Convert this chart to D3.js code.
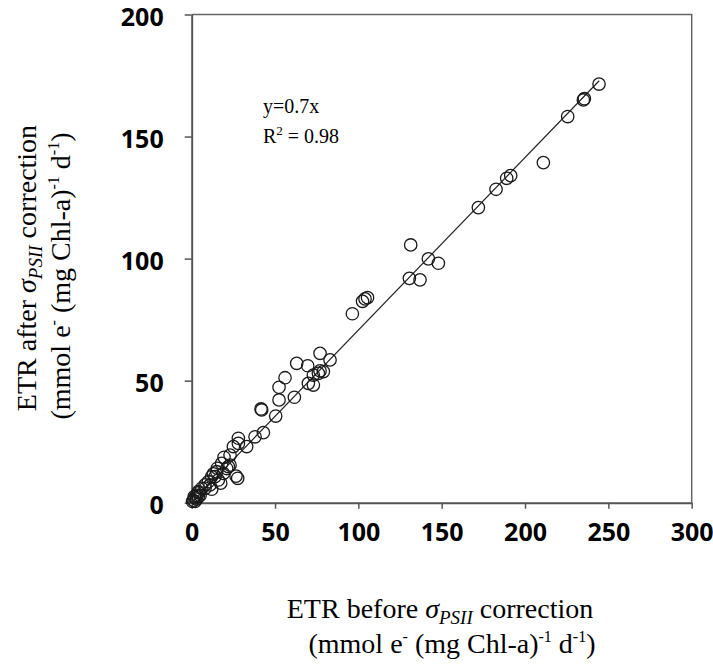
<!DOCTYPE html>
<html>
<head>
<meta charset="utf-8">
<script src="https://cdn.jsdelivr.net/npm/d3@7"></script>
<style>
  body { margin: 0; background: #fff; }
  .tick text { font-family: "Open Sans", sans-serif; font-weight: bold; font-size: 25px; fill: #000; }
  .ttl { font-family: "Liberation Serif", "Times New Roman", serif; font-size: 28px; fill: #000; }
</style>
</head>
<body>
<div id="chart"></div>
<script>

// ETR values (x = before correction, y = after)
var etrBefore = [244.4, 235, 235.6, 225.6, 211, 191.4, 189, 182.6, 172, 148, 142, 137, 131.4, 130.6,
  105.5, 104, 102.5, 96.4, 83, 79, 77, 77, 76, 73, 73, 70, 69.6, 63, 61.6, 56, 52.4, 52.4, 50.4,
  42, 41.6, 43, 38, 33, 28, 28, 26.6, 27.6, 25, 23, 19.4, 23, 22, 21, 19, 18, 15.4, 15, 14, 13, 12,
  16, 17.4, 11, 12, 10, 8, 8, 6, 4, 4, 3, 2, 4, 1, 3, 2, 5, 1.5, 0.5];
var etrAfter = [171.5, 165, 165.5, 158.2, 139.3, 134, 132.9, 128.4, 120.9, 98.1, 99.9, 91.3, 105.6, 91.9,
  84, 83.5, 82.5, 77.4, 58.5, 53.7, 61.2, 54, 53, 52.3, 48.2, 48.9, 56.1, 57.1, 43.2, 51.2, 47.3, 42.1, 35.5,
  38, 38.4, 28.7, 27, 23, 26.4, 24.3, 10.9, 10, 23, 19.5, 18.6, 15.4, 14.8, 14, 12, 16.1, 14.1, 12.7, 10.7, 11.8, 10.7,
  9.3, 8, 7.3, 5.5, 8.6, 5.9, 7.3, 5.9, 4.1, 4.5, 3, 2, 2.5, 1, 1.5, 0.5, 3, 2.5, 0.5];
var xTicks = [0, 50, 100, 150, 200, 250, 300];
var yTicks = [0, 50, 100, 150, 200];
var fitSlope = 0.707;
var fitMaxX = 244.5;

var W = 713, H = 669;
var margin = {top: 14.5, right: 21.3, bottom: 166.3, left: 191.7},
    width = W - margin.left - margin.right,
    height = H - margin.top - margin.bottom;

var svg = d3.select("#chart")
  .append("svg")
    .attr("width", W)
    .attr("height", H);

var g = svg.append("g")
    .attr("transform", "translate(" + margin.left + "," + margin.top + ")");

var x = d3.scaleLinear().domain([0, 300]).range([0, width]);
var y = d3.scaleLinear().domain([0, 200]).range([height, 0]);

// frame top and right
g.append("path")
  .attr("d", "M0,0H" + width + "V" + height)
  .attr("fill", "none")
  .attr("stroke", "#666")
  .attr("stroke-width", 1.5);

var xAxis = g.append("g")
  .attr("transform", "translate(0," + height + ")")
  .call(d3.axisBottom(x).tickValues(xTicks).tickSize(6).tickPadding(15).tickSizeOuter(0));

var yAxis = g.append("g")
  .call(d3.axisLeft(y).tickValues(yTicks).tickSize(7).tickPadding(28).tickSizeOuter(0));

[xAxis, yAxis].forEach(function(a) {
  a.select(".domain").attr("stroke", "#555").attr("stroke-width", 2);
  a.selectAll(".tick line").attr("stroke", "#555").attr("stroke-width", 1.5);
});
yAxis.selectAll(".tick text").attr("dy", "0.42em").attr("x", -28);

// fitted line
g.append("path")
  .datum([0, fitMaxX])
  .attr("fill", "none")
  .attr("stroke", "#222")
  .attr("stroke-width", 1.2)
  .attr("d", d3.line()
    .x(function(d) { return x(d) })
    .y(function(d) { return y(d * fitSlope) }));

// points
g.selectAll("circle.pt")
  .data(etrBefore)
  .enter().append("circle")
    .attr("class", "pt")
    .attr("cx", function(d) { return x(d) })
    .attr("cy", function(d, i) { return y(etrAfter[i]) })
    .attr("r", 6.2)
    .attr("fill", "none")
    .attr("stroke", "#1a1a1a")
    .attr("stroke-width", 1.3);

// equation
var eq = svg.append("text").attr("class", "ttl").style("font-size", "20px");
eq.append("tspan").attr("x", 263).attr("y", 113).text("y=0.7x");
eq.append("tspan").attr("x", 263).attr("y", 143).text("R");
eq.append("tspan").attr("dy", -8).style("font-size", "13px").text("2");
eq.append("tspan").attr("dy", 8).text(" = 0.98");

function sigmaTitle(t, word) {
  t.append("tspan").text("ETR " + word + " ");
  t.append("tspan").style("font-style", "italic").text("σ");
  t.append("tspan").style("font-style", "italic").style("font-size", "19px").attr("dy", 6).text("PSII");
  t.append("tspan").attr("dy", -6).text(" correction");
}
function unitTitle(t) {
  t.append("tspan").text("(mmol e");
  t.append("tspan").style("font-size", "16px").attr("dy", -11).text("-");
  t.append("tspan").attr("dy", 11).text(" (mg Chl-a)");
  t.append("tspan").style("font-size", "16px").attr("dy", -11).text("-1");
  t.append("tspan").attr("dy", 11).text(" d");
  t.append("tspan").style("font-size", "16px").attr("dy", -11).text("-1");
  t.append("tspan").attr("dy", 11).text(")");
}

// x title
var xt1 = svg.append("text").attr("class", "ttl").attr("text-anchor", "middle")
  .attr("x", 440).attr("y", 618);
sigmaTitle(xt1, "before");
var xt2 = svg.append("text").attr("class", "ttl").attr("text-anchor", "middle")
  .attr("x", 452).attr("y", 653);
unitTitle(xt2);

// y title
var yt1 = svg.append("text").attr("class", "ttl").attr("text-anchor", "middle")
  .attr("transform", "translate(36,268) rotate(-90)");
sigmaTitle(yt1, "after");
var yt2 = svg.append("text").attr("class", "ttl").attr("text-anchor", "middle")
  .attr("transform", "translate(70,276) rotate(-90)");
unitTitle(yt2);

</script>
</body>
</html>
